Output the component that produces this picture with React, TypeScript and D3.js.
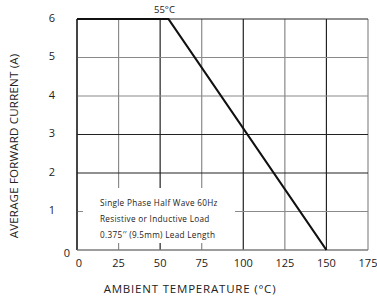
import * as d3 from "d3";
import React from "react";

// curve data: temperature (°C) vs average forward current (A)
const temps = [0, 55, 150];
const currents = [6, 6, 0];
const xTicks = [0, 25, 50, 75, 100, 125, 150, 175];
const yTicks = [0, 1, 2, 3, 4, 5, 6];
// grid line shades
const xGridDark = [0, 50, 100, 150];
const yGridDark = [6, 3, 2];
const noteLines = [
  "Single Phase Half Wave 60Hz",
  "Resistive or  Inductive Load",
  "0.375\u2032\u2032 (9.5mm) Lead Length",
];

const W = 377;
const H = 299;
const font = "'Open Sans', sans-serif";

export default function App() {
  const x = d3.scaleLinear().domain([0, 175]).range([77, 368]);
  const y = d3.scaleLinear().domain([0, 6]).range([250, 19]);

  const line = d3
    .line<number>()
    .x((_, i) => x(temps[i]))
    .y((d) => y(d));

  return (
    <svg
      width={W}
      height={H}
      style={{ position: "absolute", left: 0, top: 0, background: "#fff" }}
    >
      {/* vertical grid */}
      {xTicks.map((t) => (
        <line
          key={"vx" + t}
          x1={x(t)}
          x2={x(t)}
          y1={y(6)}
          y2={y(0)}
          stroke={xGridDark.includes(t) ? "#222" : "#8a8a8a"}
          strokeWidth={1.2}
        />
      ))}
      {/* horizontal grid */}
      {yTicks.map((t) => (
        <line
          key={"hy" + t}
          x1={x(0)}
          x2={x(175)}
          y1={y(t)}
          y2={y(t)}
          stroke={yGridDark.includes(t) ? "#222" : "#8a8a8a"}
          strokeWidth={1.2}
        />
      ))}
      {/* note box hides the grid */}
      <rect x={x(0) + 6} y={188} width={235 - x(0) - 6} height={55} fill="#fff" />
      {noteLines.map((s, i) => (
        <text
          key={s}
          x={100}
          y={206 + i * 16}
          fontFamily={font}
          fontSize={8.2}
          fill="#222"
          letterSpacing={0.3}
        >
          {s}
        </text>
      ))}
      {/* axis lines redrawn */}
      <line x1={x(0)} x2={x(0)} y1={y(6)} y2={y(0)} stroke="#222" strokeWidth={1.2} />
      <line x1={x(0)} x2={x(175)} y1={y(0)} y2={y(0)} stroke="#777" strokeWidth={1.2} />

      {/* derating curve */}
      <path
        d={line(currents) || ""}
        fill="none"
        stroke="#111"
        strokeWidth={2.2}
      />
      <text x={x(55) - 4} y={13} fontFamily={font} fontSize={9.5} fill="#222" textAnchor="middle">
        55°C
      </text>

      {/* tick labels */}
      {yTicks.map((t) => (
        <text
          key={"yl" + t}
          x={t === 0 ? 70 : 55}
          y={y(t) + (t === 0 ? 4 : 0)}
          fontFamily={font}
          fontSize={11}
          fill="#222"
          textAnchor="end"
          dominantBaseline="middle"
        >
          {t}
        </text>
      ))}
      {xTicks.map((t) => (
        <text
          key={"xl" + t}
          x={x(t) + (t === 0 ? 2 : 0)}
          y={267}
          fontFamily={font}
          fontSize={11}
          fill="#222"
          textAnchor="middle"
        >
          {t}
        </text>
      ))}

      {/* axis titles */}
      <text
        x={190}
        y={293}
        fontFamily={font}
        fontSize={11.5}
        fill="#222"
        textAnchor="middle"
        letterSpacing={0.8}
      >
        AMBIENT  TEMPERATURE (°C)
      </text>
      <text
        transform="translate(18,146) rotate(-90)"
        fontFamily={font}
        fontSize={11.5}
        fill="#222"
        textAnchor="middle"
        letterSpacing={0.2}
      >
        AVERAGE FORWARD  CURRENT (A)
      </text>
    </svg>
  );
}
